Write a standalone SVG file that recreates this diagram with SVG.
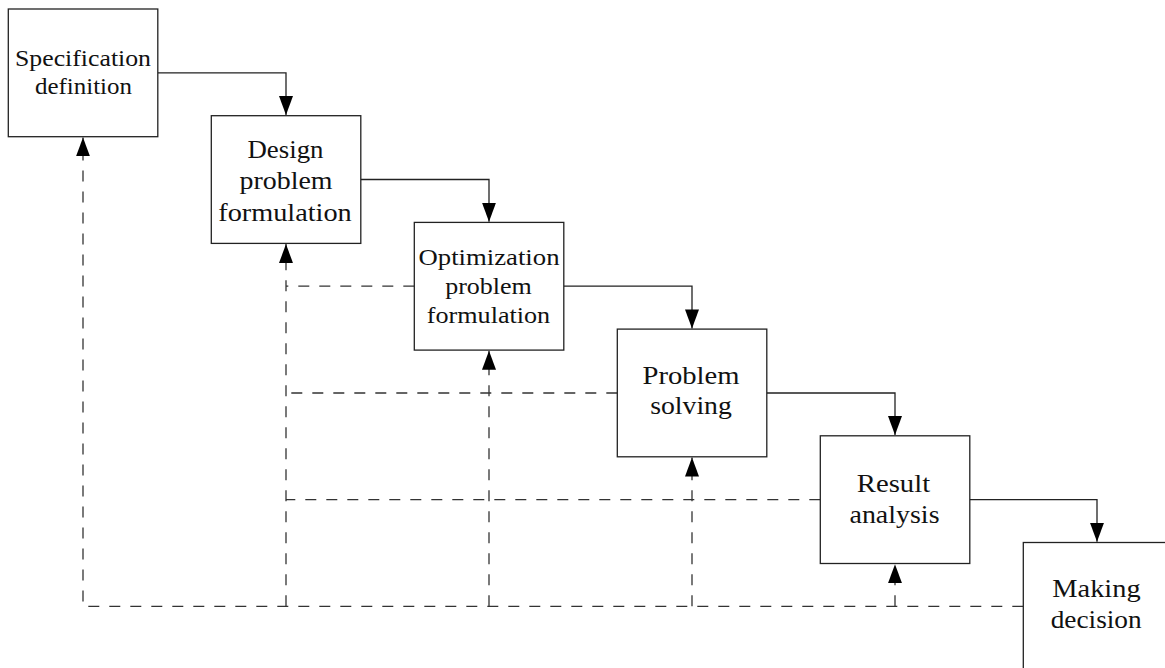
<svg xmlns="http://www.w3.org/2000/svg" width="1165" height="668" viewBox="0 0 1165 668">
<style>
.box{fill:#fff;stroke:#222;stroke-width:1.3}
.t{font-family:"Liberation Serif","Times New Roman",serif;font-size:26px;fill:#111;text-anchor:middle}
.s{font-size:23.5px}
.solid{fill:none;stroke:#222;stroke-width:1.3}
.dash{fill:none;stroke:#333;stroke-width:1.3;stroke-dasharray:11 10}
</style>
<defs>
<marker id="ah" markerUnits="userSpaceOnUse" markerWidth="20" markerHeight="14" viewBox="0 0 20 14" refX="19" refY="7" orient="auto">
<path d="M0,0 L19,7 L0,14 Z" fill="#000"/>
</marker>
</defs>
<g id="connectors">
<path class="solid" d="M157.8,72.8 H286 V115" marker-end="url(#ah)"/>
<path class="solid" d="M360.8,179.5 H489 V221.7" marker-end="url(#ah)"/>
<path class="solid" d="M563.8,286.2 H692 V328.4" marker-end="url(#ah)"/>
<path class="solid" d="M766.8,393 H895 V435.1" marker-end="url(#ah)"/>
<path class="solid" d="M969.8,499.6 H1097 V541.8" marker-end="url(#ah)"/>
<path class="dash" d="M1023.3,606.3 H83 V137.4" marker-end="url(#ah)"/>
<path class="dash" d="M286,606.3 V244.1" marker-end="url(#ah)"/>
<path class="dash" d="M489,606.3 V350.8" marker-end="url(#ah)"/>
<path class="dash" d="M692,606.3 V457.5" marker-end="url(#ah)"/>
<path class="dash" d="M895,606.3 V564.2" marker-end="url(#ah)"/>
<path class="dash" d="M414.3,286.2 H286"/>
<path class="dash" d="M617.3,393 H286"/>
<path class="dash" d="M820.3,499.6 H286"/>
</g>
<g id="n1">
<rect class="box" x="8.3" y="9" width="149.5" height="127.7"/>
<text class="t s" x="83" y="66" textLength="136" lengthAdjust="spacingAndGlyphs">Specification</text>
<text class="t s" x="83.5" y="94.3" textLength="97" lengthAdjust="spacingAndGlyphs">definition</text>
</g>
<g id="n2">
<rect class="box" x="211.3" y="115.7" width="149.5" height="127.7"/>
<text class="t" x="285.5" y="157.7" textLength="76" lengthAdjust="spacingAndGlyphs">Design</text>
<text class="t" x="286" y="189" textLength="93" lengthAdjust="spacingAndGlyphs">problem</text>
<text class="t" x="285" y="221" textLength="133.5" lengthAdjust="spacingAndGlyphs">formulation</text>
</g>
<g id="n3">
<rect class="box" x="414.3" y="222.4" width="149.5" height="127.7"/>
<text class="t s" x="489" y="265" textLength="141" lengthAdjust="spacingAndGlyphs">Optimization</text>
<text class="t s" x="488.5" y="294.3" textLength="86.7" lengthAdjust="spacingAndGlyphs">problem</text>
<text class="t s" x="488.5" y="323.3" textLength="123.3" lengthAdjust="spacingAndGlyphs">formulation</text>
</g>
<g id="n4">
<rect class="box" x="617.3" y="329.1" width="149.5" height="127.7"/>
<text class="t" x="691" y="384" textLength="97" lengthAdjust="spacingAndGlyphs">Problem</text>
<text class="t" x="691" y="414.3" textLength="81.7" lengthAdjust="spacingAndGlyphs">solving</text>
</g>
<g id="n5">
<rect class="box" x="820.3" y="435.8" width="149.5" height="127.7"/>
<text class="t" x="893.5" y="491.7" textLength="73.3" lengthAdjust="spacingAndGlyphs">Result</text>
<text class="t" x="894.5" y="522.7" textLength="90" lengthAdjust="spacingAndGlyphs">analysis</text>
</g>
<g id="n6">
<rect class="box" x="1023.3" y="542.5" width="149.5" height="127.7"/>
<text class="t" x="1096.5" y="596.7" textLength="88.3" lengthAdjust="spacingAndGlyphs">Making</text>
<text class="t" x="1096.2" y="628.3" textLength="91" lengthAdjust="spacingAndGlyphs">decision</text>
</g>
</svg>
